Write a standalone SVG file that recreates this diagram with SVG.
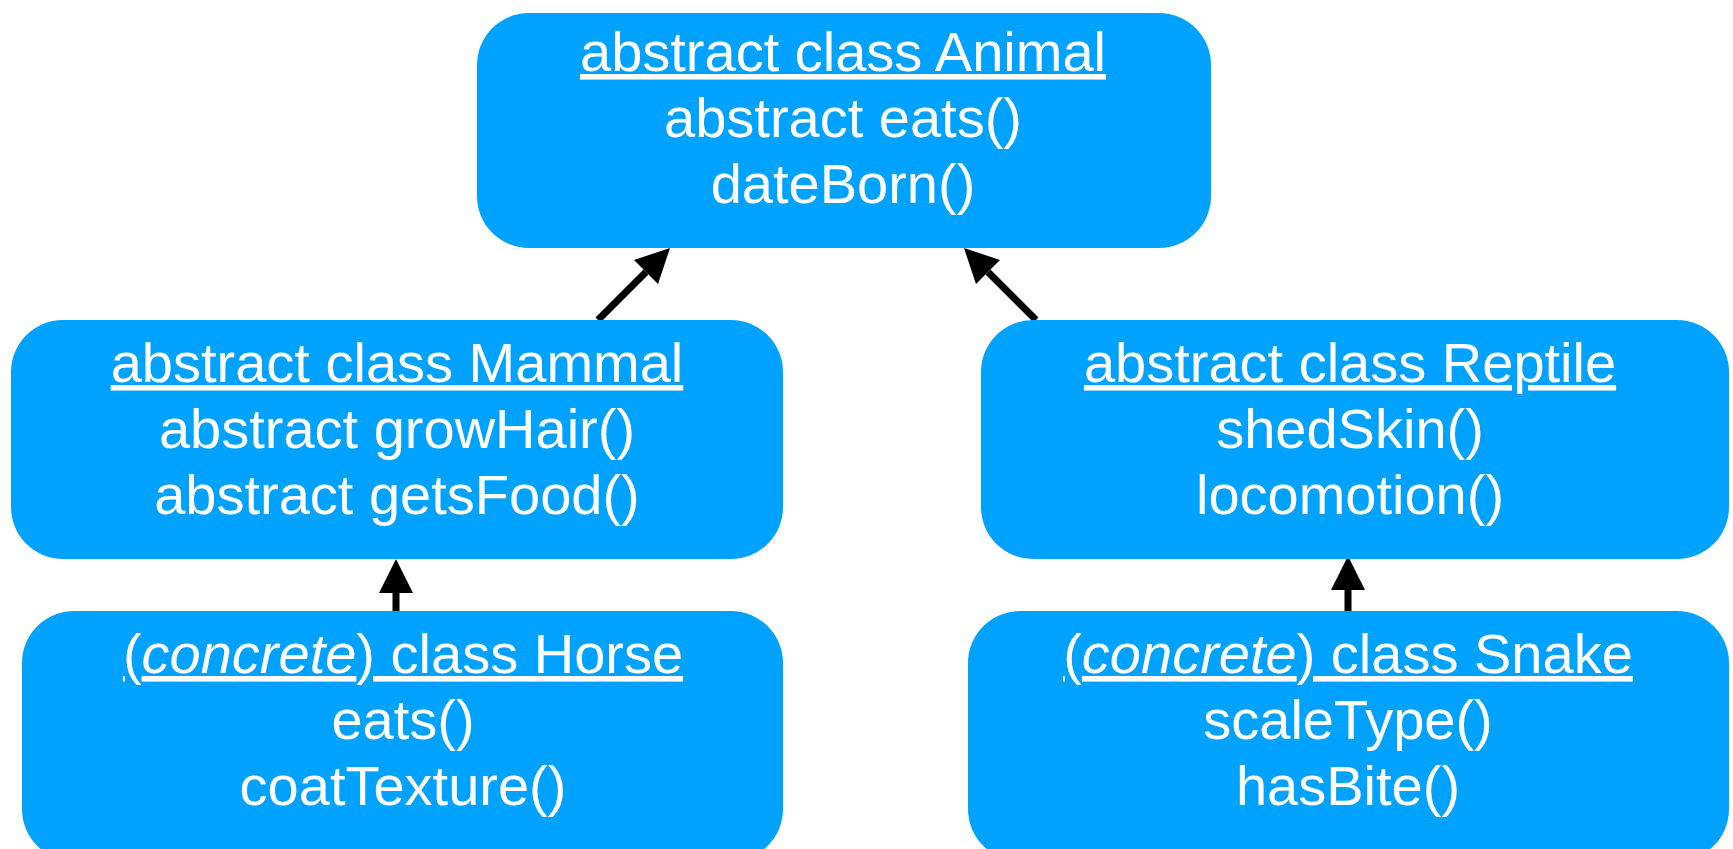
<svg xmlns="http://www.w3.org/2000/svg" width="1733" height="849" viewBox="0 0 1733 849">
  <style>
    .box { fill: #00A2FF; }
    .t { font-family: "Liberation Sans", Arial, Helvetica, sans-serif; font-size: 56px; fill: #FFFFFF; text-anchor: middle; }
    .u { text-decoration: underline; }
    .i { font-style: italic; }
    .conn { stroke: #000000; stroke-width: 7; fill: none; marker-end: url(#head); }
  </style>
  <defs>
    <marker id="head" markerUnits="userSpaceOnUse" orient="auto" markerWidth="36" markerHeight="36" refX="0" refY="17" viewBox="0 0 36 34" overflow="visible">
      <path d="M0,0 L34,17 L0,34 Z" fill="#000000"/>
    </marker>
  </defs>
  <rect width="1733" height="849" fill="#FFFFFF"/>

  <g id="connectors">
    <line class="conn" x1="598" y1="320" x2="646" y2="272"/>
    <line class="conn" x1="1036" y1="320" x2="988" y2="272"/>
    <line class="conn" x1="396" y1="611" x2="396" y2="593"/>
    <line class="conn" x1="1348" y1="611" x2="1348" y2="590"/>
  </g>

  <g id="animal">
    <rect class="box" x="477" y="13" width="734" height="235" rx="52" ry="52"/>
    <text class="t u" x="843" y="71">abstract class Animal</text>
    <text class="t" x="843" y="137">abstract eats()</text>
    <text class="t" x="843" y="203">dateBorn()</text>
  </g>

  <g id="mammal">
    <rect class="box" x="11" y="320" width="772" height="239" rx="52" ry="52"/>
    <text class="t u" x="397" y="382">abstract class Mammal</text>
    <text class="t" x="397" y="448">abstract growHair()</text>
    <text class="t" x="397" y="514">abstract getsFood()</text>
  </g>

  <g id="reptile">
    <rect class="box" x="981" y="320" width="748" height="239" rx="52" ry="52"/>
    <text class="t u" x="1350" y="382">abstract class Reptile</text>
    <text class="t" x="1350" y="448">shedSkin()</text>
    <text class="t" x="1350" y="514">locomotion()</text>
  </g>

  <g id="horse">
    <rect class="box" x="22" y="611" width="761" height="250" rx="52" ry="52"/>
    <text class="t u" x="403" y="673">(<tspan class="i">concrete</tspan>) class Horse</text>
    <text class="t" x="403" y="739">eats()</text>
    <text class="t" x="403" y="805">coatTexture()</text>
  </g>

  <g id="snake">
    <rect class="box" x="968" y="611" width="761" height="250" rx="52" ry="52"/>
    <text class="t u" x="1348" y="673">(<tspan class="i">concrete</tspan>) class Snake</text>
    <text class="t" x="1348" y="739">scaleType()</text>
    <text class="t" x="1348" y="805">hasBite()</text>
  </g>
</svg>
